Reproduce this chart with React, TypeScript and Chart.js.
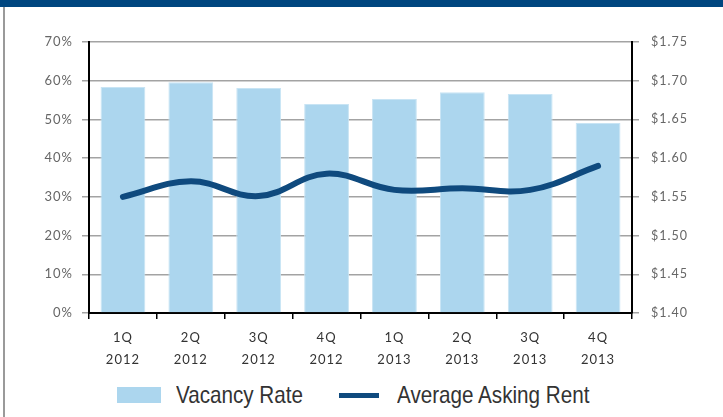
import React, { useEffect, useRef } from "react";
import { Chart, registerables } from "chart.js";

Chart.register(...registerables);

const quarters = ["1Q", "2Q", "3Q", "4Q", "1Q", "2Q", "3Q", "4Q"];
const years = ["2012", "2012", "2012", "2012", "2013", "2013", "2013", "2013"];
const vacancyRate = [58.4, 59.6, 58.1, 54.0, 55.3, 57.0, 56.6, 49.1];
const askingRent = [1.55, 1.57, 1.551, 1.58, 1.559, 1.561, 1.559, 1.59];
const leftTicks = [0, 10, 20, 30, 40, 50, 60, 70];
const rightTicks = [1.4, 1.45, 1.5, 1.55, 1.6, 1.65, 1.7, 1.75];

const BAR_COLOR = "#acd6ee";
const LINE_COLOR = "#0f4a7e";
const AXIS_FONT = "Lato";

const spacingPlugin = {
  id: "letterSpacing",
  beforeDraw(chart: any) {
    (chart.ctx as any).letterSpacing = "1px";
  },
};

export default function App() {
  const ref = useRef<HTMLCanvasElement | null>(null);

  useEffect(() => {
    document.body.style.margin = "0";
    const canvas = ref.current;
    if (!canvas) return;
    const labels = quarters.map((q, i) => [q, years[i]]);
    const chart = new Chart(canvas, {
      type: "bar",
      data: {
        labels,
        datasets: [
          {
            type: "line",
            label: "Average Asking Rent",
            data: askingRent,
            yAxisID: "y1",
            borderColor: LINE_COLOR,
            borderWidth: 6,
            borderCapStyle: "round",
            tension: 0.4,
            pointRadius: 0,
            order: 0,
          } as any,
          {
            type: "bar",
            label: "Vacancy Rate",
            data: vacancyRate,
            yAxisID: "y",
            backgroundColor: BAR_COLOR,
            borderColor: "#c8e4f4",
            borderWidth: 1,
            barPercentage: 0.66,
            categoryPercentage: 1,
            order: 1,
          } as any,
        ],
      },
      options: {
        responsive: false,
        animation: false,
        layout: { padding: { top: 42, left: 0, right: 0, bottom: 0 } },
        plugins: { legend: { display: false }, tooltip: { enabled: false } },
        scales: {
          x: {
            offset: true,
            afterFit(scale: any) {
              scale.height = 59;
            },
            grid: {
              offset: true,
              drawOnChartArea: false,
              drawTicks: true,
              tickLength: 6,
              color: "#000",
              lineWidth: 1.5,
            },
            border: { color: "#000", width: 2 },
            ticks: {
              color: "#333",
              padding: 8,
              maxRotation: 0,
              autoSkip: false,
              font: { family: AXIS_FONT, size: 13, lineHeight: 1.7 },
            },
          },
          y: {
            position: "left",
            min: 0,
            max: 70,
            afterFit(scale: any) {
              scale.width = 89;
            },
            afterBuildTicks(scale: any) {
              scale.ticks = leftTicks.map((v) => ({ value: v }));
            },
            grid: {
              color: "#a3a3a3",
              lineWidth: 1.5,
              tickLength: 7,
            },
            border: { color: "#000", width: 2 },
            ticks: {
              color: "#666",
              padding: 9,
              font: { family: AXIS_FONT, size: 13 },
              callback: (v: any) => `${v}%`,
            },
          },
          y1: {
            position: "right",
            min: 1.4,
            max: 1.75,
            afterFit(scale: any) {
              scale.width = 91;
            },
            afterBuildTicks(scale: any) {
              scale.ticks = rightTicks.map((v) => ({ value: v }));
            },
            grid: {
              drawOnChartArea: false,
              color: "#a3a3a3",
              lineWidth: 1.5,
              tickLength: 7,
            },
            border: { color: "#000", width: 2 },
            ticks: {
              color: "#666",
              padding: 12,
              font: { family: AXIS_FONT, size: 12.5 },
              callback: (v: any) => `$${Number(v).toFixed(2)}`,
            },
          },
        },
      },
      plugins: [spacingPlugin],
    } as any);
    return () => chart.destroy();
  }, []);

  const legendText: React.CSSProperties = {
    position: "absolute",
    top: 380,
    fontFamily: "'Liberation Sans', Arial, sans-serif",
    fontSize: 24,
    lineHeight: "30px",
    color: "#333",
    whiteSpace: "nowrap",
    transform: "scaleX(0.86)",
    transformOrigin: "0 0",
  };

  return (
    <div
      style={{
        position: "relative",
        width: 723,
        height: 417,
        overflow: "hidden",
        background: "#fff",
      }}
    >
      <div
        style={{
          position: "absolute",
          left: 0,
          top: 0,
          width: 723,
          height: 7,
          background: "#00467f",
        }}
      />
      <div
        style={{
          position: "absolute",
          left: 3,
          top: 7,
          width: 2,
          height: 410,
          background: "#9a9a9a",
        }}
      />
      <canvas
        ref={ref}
        width={723}
        height={372}
        style={{ position: "absolute", left: 0, top: 0, width: 723, height: 372 }}
      />
      <div
        style={{
          position: "absolute",
          left: 117,
          top: 387,
          width: 44,
          height: 16,
          background: BAR_COLOR,
        }}
      />
      <div style={{ ...legendText, left: 176 }}>Vacancy Rate</div>
      <div
        style={{
          position: "absolute",
          left: 339,
          top: 393,
          width: 40,
          height: 5,
          background: LINE_COLOR,
        }}
      />
      <div style={{ ...legendText, left: 397 }}>Average Asking Rent</div>
    </div>
  );
}
